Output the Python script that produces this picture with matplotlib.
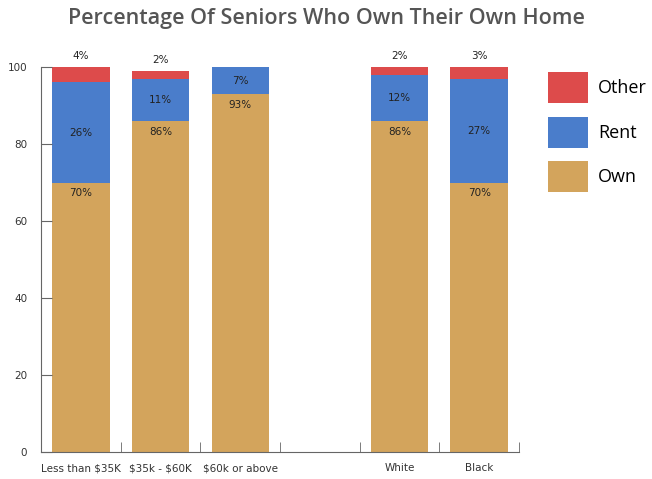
import numpy as np
import matplotlib.pyplot as plt
from matplotlib.patches import Rectangle

groups = ["Less than \\$35K", "\\$35k - \\$60K", "\\$60k or above", "", "White", "Black"]
own = [70, 86, 93, np.nan, 86, 70]
rent = [26, 11, 7, np.nan, 12, 27]
other = [4, 2, 0, np.nan, 2, 3]

colors = {"Own": "#D3A45C", "Rent": "#4A7DCB", "Other": "#DD4B4B"}

fig = plt.figure(figsize=(6.52, 4.79), dpi=100)
ax = fig.add_axes([0.063, 0.056, 0.733, 0.804])

x = np.arange(len(groups))
own_a = np.array(own)
rent_a = np.array(rent)
other_a = np.array(other)
w = 0.72

ax.bar(x, own_a, w, color=colors["Own"])
ax.bar(x, rent_a, w, bottom=own_a, color=colors["Rent"])
ax.bar(x, other_a, w, bottom=own_a + rent_a, color=colors["Other"])

lbl = dict(ha="center", fontsize=7.5, color="#222222")
for i in x:
    if np.isnan(own_a[i]):
        continue
    ax.text(i, own_a[i] - 1.5, f"{own_a[i]:.0f}%", va="top", **lbl)
    ax.text(i, own_a[i] + rent_a[i] / 2, f"{rent_a[i]:.0f}%", va="center", **lbl)
    if other_a[i] > 0:
        ax.text(i, own_a[i] + rent_a[i] + other_a[i] + 1.5, f"{other_a[i]:.0f}%",
                va="bottom", **lbl)

ax.set_xlim(-0.5, len(groups) - 0.5)
ax.set_ylim(0, 100)
ax.set_xticks(x)
ax.set_xticklabels(groups, fontsize=7.5, color="#333333")
ax.set_xticks(np.arange(-0.5, len(groups), 1), minor=True)
ax.tick_params(axis="x", which="major", length=0, pad=8)
ax.tick_params(axis="x", which="minor", direction="in", length=7, color="#666666")
ax.set_yticks(np.arange(0, 101, 20))
ax.tick_params(axis="y", direction="in", length=8, color="#666666",
               labelsize=7.5, labelcolor="#333333", pad=10)

for s in ["top", "right"]:
    ax.spines[s].set_visible(False)
for s in ["left", "bottom"]:
    ax.spines[s].set_color("#666666")

fig.text(0.5, 0.962, "Percentage Of Seniors Who Own Their Own Home",
         ha="center", va="center", fontsize=15.5, fontweight="semibold",
         family="Open Sans", color="#555555")

handles = [Rectangle((0, 0), 1, 1, fc=colors[k]) for k in ["Other", "Rent", "Own"]]
fig.legend(handles, ["Other", "Rent", "Own"], loc="upper left",
           bbox_to_anchor=(0.83, 0.864), frameon=False,
           handlelength=2.2, handleheight=2.25, labelspacing=0.75,
           handletextpad=0.55, borderaxespad=0,
           prop={"family": "Open Sans", "size": 13})

fig.savefig("out.png", dpi=100)
